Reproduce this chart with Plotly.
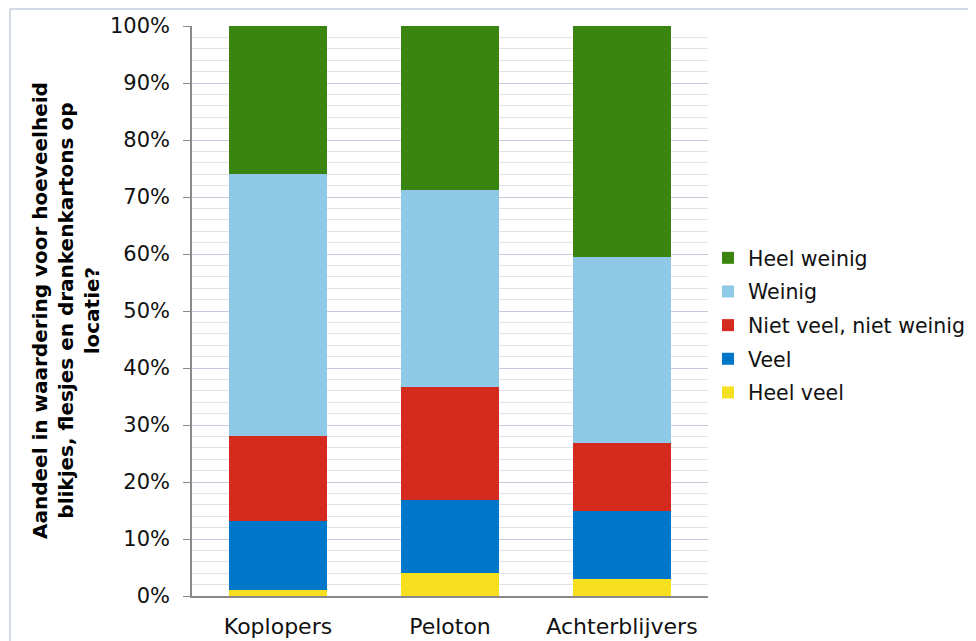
import plotly.graph_objects as go

categories = ["Koplopers", "Peloton", "Achterblijvers"]
series_names = ["Heel veel", "Veel", "Niet veel, niet weinig", "Weinig", "Heel weinig"]
heel_veel = [1.0, 4.0, 3.0]
veel = [12.1, 12.9, 11.9]
niet_veel = [15.0, 19.8, 11.9]
weinig = [45.9, 34.5, 32.6]
heel_weinig = [26.0, 28.8, 40.6]
colors = ["#f5df1f", "#0077c8", "#d42b1e", "#8fc9e6", "#3a8510"]
y_ticks = [0, 10, 20, 30, 40, 50, 60, 70, 80, 90, 100]
y_ticktext = [f"{v}%" for v in y_ticks]

values = [heel_veel, veel, niet_veel, weinig, heel_weinig]

fig = go.Figure()
n = len(series_names)
for i, (name, vals, col) in enumerate(zip(series_names, values, colors)):
    fig.add_trace(go.Bar(
        x=categories, y=vals, name=name, legendgroup=f"g{i}",
        legendrank=n - i,
        marker=dict(color=col, line=dict(width=0)),
    ))

# page body has an 8px margin: figure pixel = screen pixel - 8
OFF = 8
W, H = 976 - OFF, 641 - OFF
L, T = 192 - OFF, 26 - OFF
pw, ph = 516, 570
R, B = W - L - pw, H - T - ph

def fx(fig_px):
    return (fig_px - L) / pw

def fy(fig_py):
    return (T + ph - fig_py) / ph

fig.update_layout(
    width=W, height=H,
    margin=dict(l=L, r=R, t=T, b=B, autoexpand=False),
    barmode="stack", bargap=0.43,
    paper_bgcolor="white", plot_bgcolor="white",
    font=dict(family="DejaVu Sans", size=21, color="#111111"),
    legend=dict(
        traceorder="grouped", tracegroupgap=4,
        x=1.0, xanchor="left", y=fy(325.5 - OFF), yanchor="middle",
        font=dict(size=20.5, color="#111111"),
        bgcolor="rgba(0,0,0,0)",
    ),
    xaxis=dict(
        showline=True, linecolor="#8a8a8a", linewidth=1.5,
        ticks="", showgrid=False,
        tickfont=dict(size=22),
        ticklabelstandoff=10,
        automargin=False,
    ),
    yaxis=dict(
        range=[0, 100], tickmode="array", tickvals=y_ticks, ticktext=y_ticktext,
        showline=True, linecolor="#8a8a8a", linewidth=1.5,
        ticks="outside", ticklen=7, tickcolor="#8a8a8a",
        showgrid=True, gridcolor="#c5cbdc", gridwidth=1,
        minor=dict(dtick=2, showgrid=True, gridcolor="#dfe3ec", gridwidth=1, ticks=""),
        tickfont=dict(size=21),
        ticklabelstandoff=9,
        zeroline=False,
        automargin=False,
    ),
    annotations=[dict(
        text="Aandeel in waardering voor hoeveelheid<br>blikjes, flesjes en drankenkartons op<br>locatie?",
        textangle=-90, xref="paper", yref="paper",
        x=fx(66 - OFF), y=0.5, xanchor="center", yanchor="middle",
        showarrow=False,
        font=dict(family="DejaVu Sans", size=20, color="#000000", weight="bold"),
    )],
    shapes=[
        dict(type="line", xref="paper", yref="paper",
             x0=fx(2), x1=fx(W), y0=fy(1), y1=fy(1),
             line=dict(color="#c5cbdc", width=1.5), layer="below"),
        dict(type="line", xref="paper", yref="paper",
             x0=fx(2), x1=fx(2), y0=fy(1), y1=fy(H),
             line=dict(color="#c5cbdc", width=1.5), layer="below"),
    ],
)

fig.write_html("out.html")
